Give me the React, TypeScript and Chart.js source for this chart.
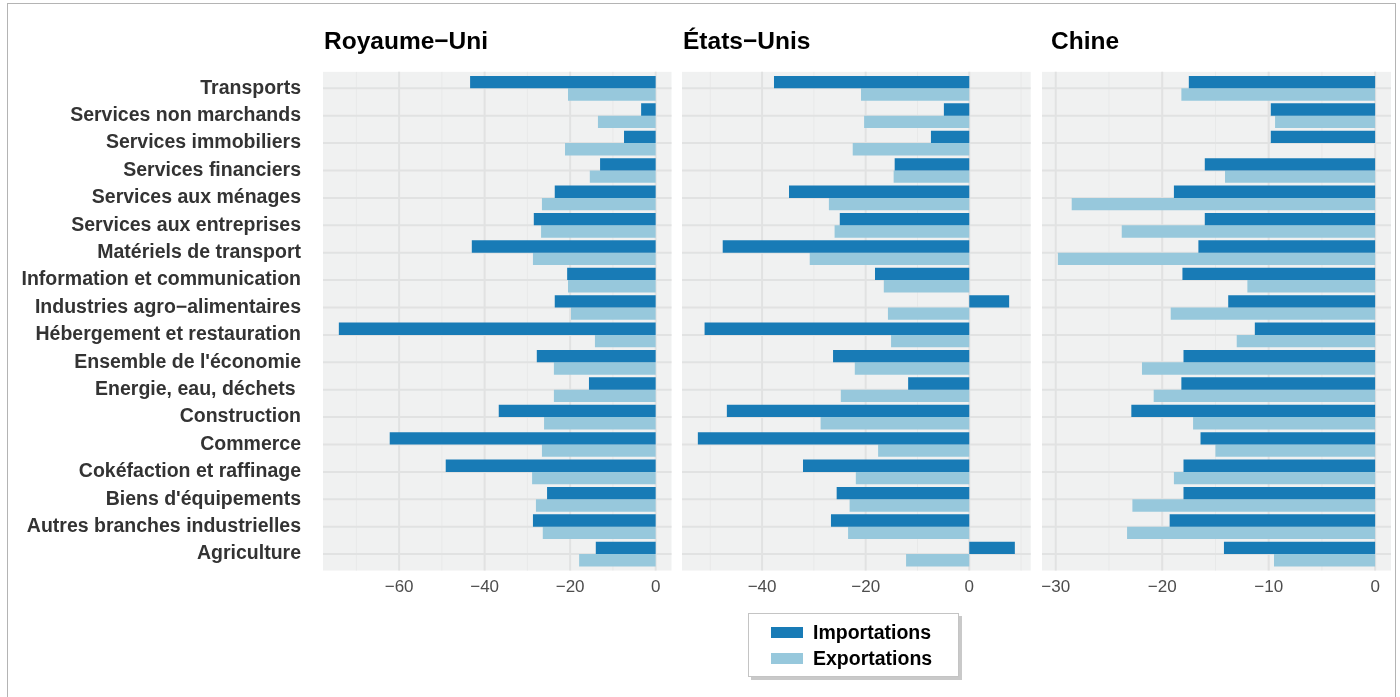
import React, { useEffect, useRef } from "react";
import { Chart, registerables } from "chart.js";

Chart.register(...registerables);

const categories = [
  "Transports",
  "Services non marchands",
  "Services immobiliers",
  "Services financiers",
  "Services aux ménages",
  "Services aux entreprises",
  "Matériels de transport",
  "Information et communication",
  "Industries agro\u2212alimentaires",
  "Hébergement et restauration",
  "Ensemble de l'économie",
  "Energie, eau, déchets ",
  "Construction",
  "Commerce",
  "Cokéfaction et raffinage",
  "Biens d'équipements",
  "Autres branches industrielles",
  "Agriculture",
];

const seriesNames = ["Importations", "Exportations"];
const panelTitles = ["Royaume\u2212Uni", "États\u2212Unis", "Chine"];

const ukImports = [-43.4, -3.4, -7.4, -13.0, -23.6, -28.5, -43.0, -20.7, -23.6, -74.1, -27.8, -15.6, -36.7, -62.2, -49.1, -25.4, -28.7, -14.0];
const ukExports = [-20.5, -13.5, -21.2, -15.4, -26.6, -26.8, -28.7, -20.5, -19.8, -14.2, -23.8, -23.8, -26.1, -26.6, -28.9, -28.0, -26.4, -17.9];

const usImports = [-37.7, -4.9, -7.4, -14.4, -34.8, -25.0, -47.6, -18.2, 7.7, -51.1, -26.3, -11.8, -46.8, -52.4, -32.1, -25.6, -26.7, 8.8];
const usExports = [-20.9, -20.3, -22.5, -14.6, -27.1, -26.0, -30.8, -16.5, -15.7, -15.1, -22.1, -24.8, -28.7, -17.6, -21.9, -23.1, -23.4, -12.2];

const cnImports = [-17.5, -9.8, -9.8, -16.0, -18.9, -16.0, -16.6, -18.1, -13.8, -11.3, -18.0, -18.2, -22.9, -16.4, -18.0, -18.0, -19.3, -14.2];
const cnExports = [-18.2, -9.4, null, -14.1, -28.5, -23.8, -29.8, -12.0, -19.2, -13.0, -21.9, -20.8, -17.1, -15.0, -18.9, -22.8, -23.3, -9.5];

const ukTicks = [-60, -40, -20, 0];
const usTicks = [-40, -20, 0];
const cnTicks = [-30, -20, -10, 0];

const IMPORT_COLOR = "#187bb6";
const EXPORT_COLOR = "#97c8dc";
const FONT = "'Liberation Sans', Arial, Helvetica, sans-serif";

function expandedRange(a: (number | null)[], b: (number | null)[]) {
  const vals = [...a, ...b].filter((v) => v !== null) as number[];
  const lo = Math.min(0, ...vals);
  const hi = Math.max(0, ...vals);
  const pad = (hi - lo) * 0.05;
  return [lo - pad, hi + pad];
}

function fmt(v: number) {
  return v < 0 ? "\u2212" + Math.abs(v) : String(v);
}

const panelBg = {
  id: "panelBg",
  beforeDraw(chart: any, _args: any, opts: any) {
    const { ctx, chartArea: a, scales } = chart;
    const x = scales.x;
    const y = scales.y;
    const band = (a.bottom - a.top) / categories.length;
    const top = a.top - 0.1 * band;
    const bottom = a.bottom + 0.1 * band;
    ctx.save();
    ctx.fillStyle = "#f0f1f1";
    ctx.fillRect(a.left, top, a.right - a.left, bottom - top);
    const step = opts.step;
    const half = step / 2;
    for (let k = Math.ceil(x.min / half); k * half <= x.max; k++) {
      const v = k * half;
      const px = x.getPixelForValue(v);
      const major = k % 2 === 0;
      ctx.strokeStyle = major ? "#e1e2e2" : "#e8e9e9";
      ctx.lineWidth = major ? 2 : 1;
      ctx.beginPath();
      ctx.moveTo(px, top);
      ctx.lineTo(px, bottom);
      ctx.stroke();
    }
    ctx.strokeStyle = "#e1e2e2";
    ctx.lineWidth = 2;
    for (let i = 0; i < categories.length; i++) {
      const py = y.getPixelForValue(i);
      ctx.beginPath();
      ctx.moveTo(a.left, py);
      ctx.lineTo(a.right, py);
      ctx.stroke();
    }
    ctx.restore();
  },
};

const CANVAS_H = 630;
const AREA_TOP = 74.6;
const AREA_BOTTOM = 567.8;
const XAXIS_H = 40;

type PanelDef = {
  imports: (number | null)[];
  exports: (number | null)[];
  ticks: number[];
  step: number;
  showY: boolean;
  left: number;
  width: number;
  padLeft: number;
  padRight: number;
};

const panels: PanelDef[] = [
  { imports: ukImports, exports: ukExports, ticks: ukTicks, step: 20, showY: true, left: 0, width: 677, padLeft: 0, padRight: 5.5 },
  { imports: usImports, exports: usExports, ticks: usTicks, step: 20, showY: false, left: 662, width: 375, padLeft: 20, padRight: 6.3 },
  { imports: cnImports, exports: cnExports, ticks: cnTicks, step: 10, showY: false, left: 1022, width: 378, padLeft: 20, padRight: 9 },
];

const titleLefts = [324, 683, 1051];

function Panel({ def }: { def: PanelDef }) {
  const ref = useRef<HTMLCanvasElement | null>(null);
  useEffect(() => {
    if (!ref.current) return;
    const [min, max] = expandedRange(def.imports, def.exports);
    const yScale: any = {
      type: "category",
      display: def.showY,
      offset: true,
      grid: { display: false, drawTicks: false },
      border: { display: false },
      ticks: {
        color: "#333333",
        font: { family: FONT, size: 19.5, weight: "bold" },
        padding: 22,
        autoSkip: false,
      },
    };
    if (def.showY) {
      yScale.afterFit = (s: any) => {
        s.width = 323;
      };
    }
    const chart = new Chart(ref.current, {
      type: "bar",
      data: {
        labels: categories,
        datasets: [
          { label: seriesNames[0], data: def.imports as any, backgroundColor: IMPORT_COLOR, categoryPercentage: 0.9, barPercentage: 1 },
          { label: seriesNames[1], data: def.exports as any, backgroundColor: EXPORT_COLOR, categoryPercentage: 0.9, barPercentage: 1 },
        ],
      },
      options: {
        indexAxis: "y",
        animation: false,
        responsive: false,
        maintainAspectRatio: false,
        layout: {
          padding: {
            left: def.padLeft,
            right: def.padRight,
            top: AREA_TOP,
            bottom: CANVAS_H - AREA_BOTTOM - XAXIS_H,
          },
        },
        plugins: {
          legend: { display: false },
          tooltip: { enabled: false },
          panelBg: { step: def.step },
        } as any,
        scales: {
          x: {
            type: "linear",
            min,
            max,
            grid: { display: false, drawTicks: false },
            border: { display: false },
            ticks: {
              color: "#4d4d4d",
              font: { family: FONT, size: 17 },
              padding: 9,
              autoSkip: false,
              maxRotation: 0,
              callback: (v: any) => fmt(Number(v)),
            },
            afterBuildTicks: (s: any) => {
              s.ticks = def.ticks.map((v) => ({ value: v }));
            },
            afterFit: (s: any) => {
              s.height = XAXIS_H;
            },
          },
          y: yScale,
        },
      },
      plugins: [panelBg],
    });
    return () => chart.destroy();
  }, [def]);
  return (
    <canvas
      ref={ref}
      width={def.width}
      height={CANVAS_H}
      style={{ position: "absolute", left: def.left, top: 0, width: def.width, height: CANVAS_H }}
    />
  );
}

export default function App() {
  return (
    <div
      style={{
        position: "absolute",
        left: 0,
        top: 0,
        width: 1400,
        height: 697,
        background: "#ffffff",
        overflow: "hidden",
        fontFamily: FONT,
      }}
    >
      <div
        style={{
          position: "absolute",
          left: 7,
          top: 3,
          width: 1389,
          height: 800,
          border: "1px solid #b4b4b4",
          boxSizing: "border-box",
        }}
      />
      {panels.map((p, i) => (
        <Panel key={i} def={p} />
      ))}
      {panelTitles.map((t, i) => (
        <div
          key={t}
          style={{
            position: "absolute",
            left: titleLefts[i],
            top: 29,
            fontSize: 24.5,
            lineHeight: "24px",
            fontWeight: "bold",
            color: "#000",
            whiteSpace: "nowrap",
          }}
        >
          {t}
        </div>
      ))}
      <div
        style={{
          position: "absolute",
          left: 748,
          top: 613,
          width: 211,
          height: 64,
          border: "1px solid #c4c4c4",
          boxShadow: "3px 3px 0 #c9c9c9",
          background: "#fff",
          boxSizing: "border-box",
        }}
      >
        {seriesNames.map((n, i) => (
          <div key={n} style={{ position: "absolute", left: 22, top: 6 + i * 26, height: 24, display: "flex", alignItems: "center" }}>
            <div style={{ width: 32, height: 11, background: i === 0 ? IMPORT_COLOR : EXPORT_COLOR }} />
            <div style={{ marginLeft: 10, fontSize: 19.5, fontWeight: "bold", color: "#000", whiteSpace: "nowrap" }}>{n}</div>
          </div>
        ))}
      </div>
    </div>
  );
}
